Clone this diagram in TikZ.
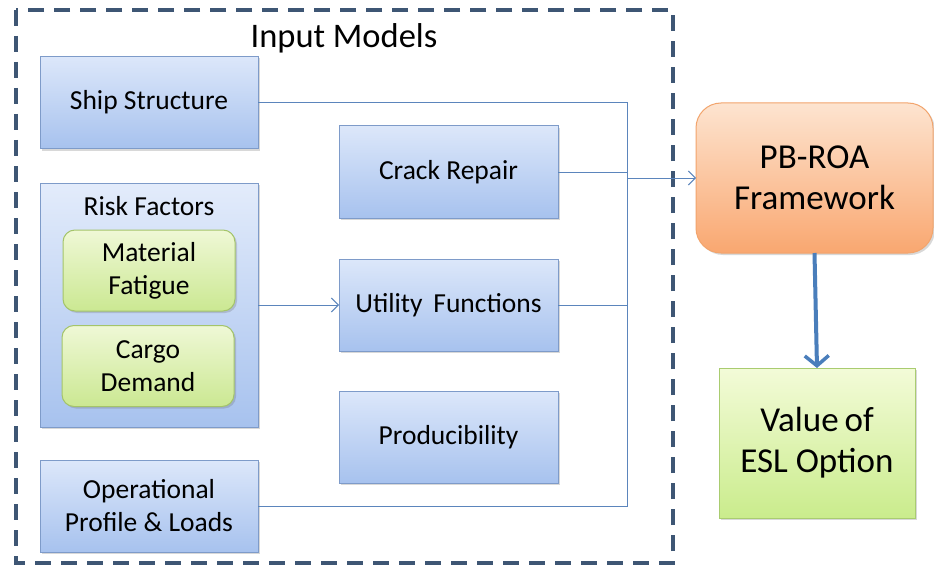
\documentclass[tikz,border=0pt]{standalone}
\usepackage{fontspec}
\setmainfont{Carlito}
\usetikzlibrary{arrows.meta,shadows,shadings}
\definecolor{bluetop}{HTML}{DCE7FA}
\definecolor{bluebot}{HTML}{A7C2EE}
\definecolor{blueline}{HTML}{7E9BC9}
\definecolor{greentop}{HTML}{EFF8D6}
\definecolor{greenbot}{HTML}{CBE892}
\definecolor{greenline}{HTML}{A4C46A}
\definecolor{orangetop}{HTML}{FDE4D0}
\definecolor{orangebot}{HTML}{F9A770}
\definecolor{orangeline}{HTML}{F2A46C}
\definecolor{valtop}{HTML}{F3FBD8}
\definecolor{valbot}{HTML}{CAEC8C}
\definecolor{valline}{HTML}{A9CC70}
\definecolor{conn}{HTML}{5B85BC}
\definecolor{frame}{HTML}{3E5674}
\definecolor{bigarrow}{HTML}{4A7EBB}
\tikzset{
  shad/.style={drop shadow={shadow xshift=2pt,shadow yshift=-2pt,opacity=0.25,fill=black!60}},
  bluebox/.style={draw=blueline,line width=1pt,top color=bluetop,bottom color=bluebot,
    minimum width=218pt,minimum height=92pt,align=center,font=\fontsize{27.5}{33}\selectfont,
    inner sep=0pt,outer sep=0pt,shad},
  greenbox/.style={draw=greenline,line width=1pt,top color=greentop,bottom color=greenbot,
    rounded corners=12pt,minimum width=172pt,minimum height=81pt,align=center,
    font=\fontsize{27.5}{33}\selectfont,inner sep=0pt,outer sep=0pt,shad},
  conline/.style={draw=conn,line width=1pt},
}
\begin{document}
\begin{tikzpicture}[x=1pt,y=-1pt]
\useasboundingbox (0,0) rectangle (934,567);
\fill[white] (0,0) rectangle (934,567);
% frame
\draw[frame,line width=3.5pt,dash pattern=on 16pt off 10pt] (16,10) rectangle (673,563);
\node[anchor=base,font=\fontsize{34.5}{40}\selectfont] (title) at (344,48) {Input Models};
% left column
\node[bluebox] (ship) at (149,102.5) {Ship Structure};
\node[bluebox,minimum height=244pt,top color=bluetop!80!white,bottom color=bluebot] (risk) at (149,305) {};
\node[font=\fontsize{27.5}{33}\selectfont] (risklabel) at (149,206) {Risk Factors};
\node[greenbox] (mat) at (149,270.5) {Material\\Fatigue};
\node[greenbox] (cargo) at (148,366) {Cargo\\Demand};
\node[bluebox] (ops) at (149,506) {Operational\\Profile \& Loads};
% middle column
\node[bluebox,minimum width=219pt] (crack) at (448.5,172) {Crack Repair};
\node[bluebox,minimum width=219pt] (util) at (448.5,305) {Utility\, Functions};
\node[bluebox,minimum width=219pt] (prod) at (448.5,437) {Producibility};
% right
\node[draw=orangeline,line width=1pt,top color=orangetop,bottom color=orangebot,rounded corners=25pt,
  minimum width=237pt,minimum height=150pt,align=center,font=\fontsize{35}{41}\selectfont,
  inner sep=0pt,outer sep=0pt,shad] (pb) at (814.5,178) {PB-ROA\\Framework};
\node[draw=valline,line width=1pt,top color=valtop,bottom color=valbot,
  minimum width=196pt,minimum height=150pt,align=center,font=\fontsize{35}{41}\selectfont,
  inner sep=0pt,outer sep=0pt,shad] (val) at (817,443) {Value\,of\\ESL Option};
% connectors
\coordinate (ctop) at (627,102.5);
\coordinate (cbot) at (627,506);
\draw[conline] (ship.east) -- (ctop) -- (cbot) -- (ops.east);
\draw[conline] (crack.east) -- (crack.east -| ctop);
\draw[conline] (util.east) -- (util.east -| ctop);
\draw[conline,-{Straight Barb[length=7pt,width=14pt,line width=1pt]}] (pb.west -| ctop) -- (pb.west);
\draw[conline,-{Straight Barb[length=7pt,width=14pt,line width=1pt]}] (util.west -| risk.east) -- (util.west);
\draw[draw=bigarrow,line width=4pt,-{Straight Barb[length=10pt,width=24pt,line width=3.5pt]}] (pb.south) -- (val.north);
\end{tikzpicture}
\end{document}
